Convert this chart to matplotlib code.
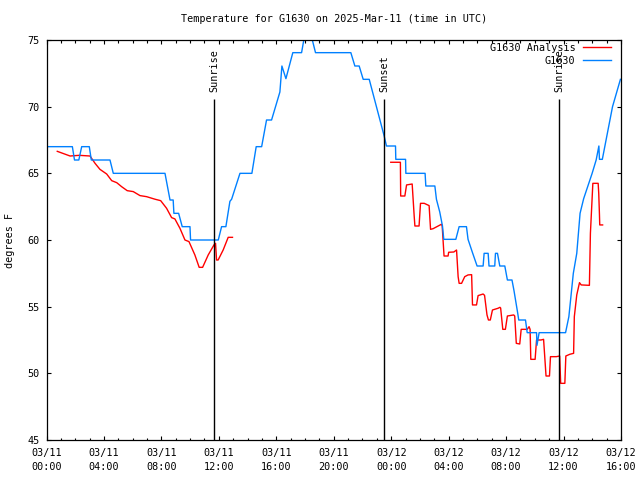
import numpy as np
import matplotlib
matplotlib.use("Agg")
import matplotlib.pyplot as plt
import matplotlib.dates as mdates

# hours since 2025-03-11 00:00 UTC
obs_hours = [0.0, 1.8, 1.95, 2.25, 2.45, 2.98, 3.12, 4.42, 4.65, 8.25, 8.6, 8.82, 8.87,
             9.2, 9.45, 9.99, 10.03, 11.96, 12.19, 12.49, 12.77, 12.89, 13.47, 14.3,
             14.6, 14.98, 15.32, 15.67, 16.25, 16.39, 16.67, 17.15, 17.76, 18.16, 18.73,
             21.19, 21.47, 21.77, 22.05, 22.47, 23.51, 23.67, 24.3, 24.32, 25.0, 25.02,
             26.36, 26.41, 27.04, 27.15, 27.38, 27.57, 27.66, 28.5, 28.73, 29.24, 29.35,
             29.66, 29.98, 30.4, 30.47, 30.75, 30.81, 31.21, 31.26, 31.4, 31.56, 31.91,
             32.09, 32.41, 32.55, 32.81, 32.88, 33.35, 33.47, 34.12, 34.15, 34.3, 36.14,
             36.37, 36.68, 36.92, 37.15, 37.4, 37.99, 38.27, 38.46, 38.5, 38.7, 39.05,
             39.41, 39.96]
obs_temp = [67, 67, 66, 66, 67, 67, 66, 66, 65, 65, 63, 63, 62,
            62, 61, 61, 60, 60, 61, 61, 62.9, 63.06, 65, 65,
            67, 67, 69, 69, 71.1, 73.05, 72.1, 74.05, 74.05, 76.5, 74.05,
            74.05, 73.05, 73.05, 72.05, 72.05, 67.8, 67.05, 67.05, 66.05, 66.05, 65,
            65, 64.05, 64.05, 63.05, 62.1, 61.05, 60.05, 60.05, 61, 61, 60.05,
            59.05, 58.05, 58.05, 59, 59, 58.05, 58.05, 59, 59, 58.05, 58.05,
            57, 57, 56.2, 54.5, 54, 54, 53.05, 53.05, 52.1, 53.05, 53.05,
            54.25, 57.5, 59, 62, 63.1, 65, 66, 67.05, 66.05, 66.05, 68,
            70, 72.05]

ana_hours = [0.75, 1.64, 2.28, 3.03, 3.38, 3.72, 4.19, 4.54, 4.89, 5.23, 5.62, 6.04,
             6.51, 6.97, 7.55, 7.95, 8.36, 8.71, 8.94, 9.29, 9.64, 9.92, 10.33, 10.63,
             10.87, 11.26, 11.66, 11.77, 11.84, 11.95, 12.3, 12.65, 12.95,
             18.0,
             23.97, 24.64, 24.66, 24.95, 25.07, 25.46, 25.6, 25.65, 25.94, 26.04, 26.3,
             26.64, 26.74, 26.92, 27.27, 27.5, 27.55, 27.68, 27.96, 28.0, 28.36, 28.55,
             28.66, 28.73, 28.9, 29.12, 29.35, 29.6, 29.66, 29.94, 30.05, 30.4, 30.5,
             30.67, 30.77, 30.9, 31.05, 31.44, 31.57, 31.62, 31.77, 31.95, 32.09, 32.53,
             32.6, 32.71, 32.95, 33.05, 33.47, 33.6, 33.67, 33.72, 34.02, 34.12, 34.43,
             34.61, 34.78, 35.02, 35.09, 35.5, 35.73, 35.8, 36.09, 36.16, 36.44, 36.7,
             36.75, 36.92, 37.11, 37.23, 37.8, 37.87, 38.04, 38.41, 38.45, 38.5, 38.52,
             38.72]
ana_temp = [66.65, 66.3, 66.35, 66.3, 65.75, 65.3, 64.95, 64.45, 64.3, 64.0, 63.7, 63.63,
            63.33, 63.25, 63.06, 62.95, 62.38, 61.68, 61.58, 60.88, 60.0, 59.88, 58.88, 57.95,
            57.95, 58.88, 59.63, 59.75, 58.5, 58.5, 59.25, 60.2, 60.2,
            np.nan,
            65.83, 65.83, 63.3, 63.3, 64.13, 64.2, 61.8, 61.05, 61.05, 62.75, 62.75,
            62.58, 60.8, 60.85, 61.05, 61.18, 61.05, 58.8, 58.8, 59.08, 59.1, 59.25,
            57.25, 56.75, 56.75, 57.25, 57.38, 57.4, 55.13, 55.13, 55.83, 55.95, 55.85,
            54.38, 54.0, 54.0, 54.75, 54.88, 54.95, 54.9, 53.3, 53.3, 54.3, 54.38,
            54.3, 52.25, 52.2, 53.3, 53.3, 53.5, 53.3, 51.05, 51.05, 52.5, 52.5,
            52.55, 49.8, 49.8, 51.25, 51.25, 51.3, 49.25, 49.25, 51.3, 51.43, 51.5,
            54.25, 55.88, 56.8, 56.63, 56.6, 60.5, 64.25, 64.25, 63.5, 61.9, 61.13,
            61.13]

event_hours = [11.68, 23.51, 35.68]
event_labels = ["Sunrise", "Sunset", "Sunrise"]
event_top = 70.6

base = np.datetime64("2025-03-11T00:00")


def to_time(hours):
    return base + (np.array(hours) * 3600).astype("timedelta64[s]")


plt.rcParams['font.family'] = 'DejaVu Sans Mono'
plt.rcParams['font.size'] = 7.3

fig = plt.figure(figsize=(6.4, 4.8), dpi=100)
ax = fig.add_axes([46.5 / 640, 40 / 480, (621 - 46.5) / 640, 400 / 480])

ax.plot(to_time(ana_hours), ana_temp, color='#ff0000', lw=1.0, label='G1630 Analysis')
ax.plot(to_time(obs_hours), obs_temp, color='#0080ff', lw=1.0, label='G1630')

for h, lab in zip(event_hours, event_labels):
    t = to_time([h])[0]
    ax.vlines(t, 45, event_top, color='black', lw=1.0)
    ax.annotate(lab, (t, event_top), xytext=(0, 5), textcoords='offset points',
                rotation=90, ha='center', va='bottom')

ax.set_xlim(to_time([0])[0], to_time([40])[0])
ax.set_ylim(45, 75)
ax.set_yticks(np.arange(45, 76, 5))
ax.xaxis.set_major_locator(mdates.HourLocator(byhour=[0, 4, 8, 12, 16, 20]))
ax.xaxis.set_minor_locator(mdates.HourLocator(interval=1))
ax.xaxis.set_major_formatter(mdates.DateFormatter('%m/%d\n%H:%M'))
ax.tick_params(which='both', direction='in', top=True, right=True, width=0.8)
ax.tick_params(which='major', length=3.2)
ax.tick_params(which='minor', length=1.8)
ax.tick_params(axis='x', pad=5.5)
ax.tick_params(axis='y', pad=5)
for lbl in ax.get_xticklabels():
    lbl.set_linespacing(1.5)
for sp in ax.spines.values():
    sp.set_linewidth(0.9)

fig.text(333.75 / 640, 1 - 19 / 480, 'Temperature for G1630 on 2025-Mar-11 (time in UTC)',
         ha='center', va='center')
fig.text(10 / 640, 0.5, 'degrees F', rotation=90, ha='center', va='center')

ax.legend(loc='upper right', bbox_to_anchor=(611 / 640, 1 - 43 / 480),
          bbox_transform=fig.transFigure, frameon=False, markerfirst=False,
          borderpad=0, borderaxespad=0, handlelength=2.8, handletextpad=0.7,
          labelspacing=0.3)

fig.savefig('out.png', dpi=100)
